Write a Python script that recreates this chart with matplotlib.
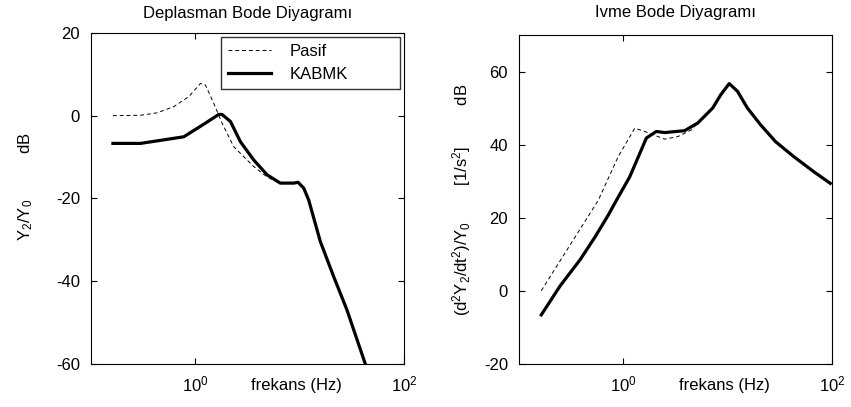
import matplotlib
matplotlib.use('Agg')
import matplotlib.pyplot as plt

plt.rcParams['font.family'] = ['Liberation Sans', 'DejaVu Sans']
plt.rcParams['mathtext.fontset'] = 'custom'
plt.rcParams['mathtext.rm'] = 'Liberation Sans'
plt.rcParams['mathtext.it'] = 'Liberation Sans:italic'
plt.rcParams['axes.unicode_minus'] = False

# deplasman (sol grafik)
f_dep_kabmk = [0.162, 0.298, 0.773, 1.247, 1.671, 1.799, 2.163, 2.698, 3.614, 4.853,
               6.501, 8.730, 9.616, 10.89, 12.16, 15.70, 21.09, 28.31, 42.36]
dep_kabmk = [-6.7, -6.7, -5.1, -1.8, 0.3, 0.3, -1.4, -6.3, -10.7, -14.3,
             -16.3, -16.3, -16.1, -17.5, -20.4, -30.4, -38.9, -47.0, -60.0]
f_dep_pasif = [0.162, 0.298, 0.430, 0.621, 0.863, 1.117, 1.247, 1.496, 1.799, 2.328,
               3.614, 4.853, 6.501, 8.730, 9.616, 10.89, 12.16, 15.70, 21.09, 28.31, 42.36]
dep_pasif = [0.0, 0.1, 0.7, 2.2, 4.6, 7.8, 7.4, 3.0, -1.8, -7.5,
             -12.3, -14.8, -16.4, -16.3, -16.1, -17.5, -20.4, -30.4, -38.9, -47.0, -60.0]

# ivme (sag grafik)
f_ivm_kabmk = [0.163, 0.248, 0.384, 0.533, 0.714, 0.857, 1.148, 1.656, 2.061, 2.477, 3.837,
               5.140, 7.145, 8.570, 10.30, 12.36, 15.38, 20.61, 28.64, 42.85, 66.37, 95.7]
ivm_kabmk = [-6.6, 1.4, 8.5, 14.7, 20.7, 24.8, 31.2, 41.8, 43.6, 43.3, 43.8,
             45.9, 50.0, 53.7, 56.7, 54.6, 50.0, 45.4, 40.8, 36.7, 32.6, 29.4]
f_ivm_pasif = [0.163, 0.574, 0.889, 1.282, 1.596, 2.477, 3.319, 4.446, 5.140,
               7.145, 8.570, 10.30, 12.36, 15.38, 20.61, 28.64, 42.85, 66.37, 95.7]
ivm_pasif = [0.0, 24.8, 36.7, 44.5, 43.6, 41.5, 42.2, 44.0, 45.9,
             50.0, 53.7, 56.7, 54.6, 50.0, 45.4, 40.8, 36.7, 32.6, 29.4]

fig = plt.figure(figsize=(8.51, 4.07), dpi=100)
ax1 = fig.add_axes([0.107, 0.106, 0.368, 0.813])
ax2 = fig.add_axes([0.610, 0.106, 0.368, 0.808])

fs = 12
for ax in (ax1, ax2):
    ax.set_xscale('log')
    ax.set_xlim(0.1, 100)
    ax.set_xticks([1, 100])
    ax.minorticks_off()
    ax.tick_params(direction='in', top=True, right=True, length=4, width=0.8,
                   labelsize=fs, pad=8)
    for s in ax.spines.values():
        s.set_linewidth(0.8)
    ax.text(0.656, -0.065, 'frekans (Hz)', transform=ax.transAxes,
            ha='center', va='center', fontsize=fs)

ax1.plot(f_dep_pasif, dep_pasif, 'k--', lw=0.7, dashes=(4, 3), label='Pasif')
ax1.plot(f_dep_kabmk, dep_kabmk, 'k-', lw=2.3, label='KABMK')
ax1.set_ylim(-60, 20)
ax1.set_yticks([-60, -40, -20, 0, 20])
ax1.set_title('Deplasman Bode Diyagramı', fontsize=fs, pad=11)
ax1.set_ylabel(r'$\mathregular{Y_2/Y_0}$          dB', fontsize=fs)
ax1.yaxis.set_label_coords(-0.18, 0.535)
ax1.legend(loc='upper left', bbox_to_anchor=(0.415, 0.822, 0.572, 0.166),
           mode='expand', fontsize=fs, handlelength=2.6, frameon=True,
           fancybox=False, edgecolor='black', borderaxespad=0, borderpad=0.4,
           handletextpad=1.1)

ax2.plot(f_ivm_pasif, ivm_pasif, 'k--', lw=0.7, dashes=(4, 3))
ax2.plot(f_ivm_kabmk, ivm_kabmk, 'k-', lw=2.3)
ax2.set_ylim(-20, 70)
ax2.set_yticks([-20, 0, 20, 40, 60])
ax2.set_title('Ivme Bode Diyagramı', fontsize=fs, pad=13)
ax2.set_ylabel(r'$\mathregular{(d^2Y_2/dt^2)/Y_0}$        $\mathregular{[1/s^2]}$         dB',
               fontsize=fs, labelpad=8)

fig.savefig('out.png', dpi=100)
